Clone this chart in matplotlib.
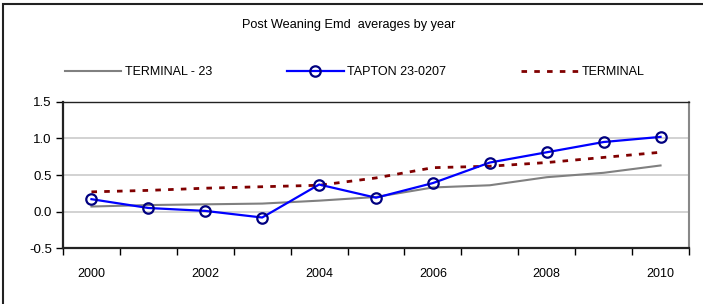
import matplotlib
matplotlib.use("Agg")
import matplotlib.pyplot as plt
from matplotlib.patches import Rectangle

years = [2000, 2001, 2002, 2003, 2004, 2005, 2006, 2007, 2008, 2009, 2010]
terminal_23 = [0.07, 0.09, 0.10, 0.11, 0.15, 0.20, 0.33, 0.36, 0.47, 0.53, 0.63]
tapton = [0.17, 0.05, 0.01, -0.08, 0.37, 0.19, 0.39, 0.67, 0.81, 0.95, 1.02]
terminal = [0.27, 0.29, 0.32, 0.34, 0.36, 0.46, 0.60, 0.62, 0.67, 0.74, 0.81]
yticks = [-0.5, 0.0, 0.5, 1.0, 1.5]

plt.rcParams['font.family'] = ['Liberation Sans', 'DejaVu Sans']

fig = plt.figure(figsize=(7.03, 3.04), dpi=100)
ax = fig.add_axes([63/703, 1-248.3/304, (689-63)/703, (248.3-101.7)/304])

x = list(range(len(years)))
l1, = ax.plot(x, terminal_23, color='#808080', lw=1.5, label='TERMINAL - 23', zorder=3)
l2, = ax.plot(x, tapton, color='#0000FF', lw=1.6, marker='o', markersize=7.5,
              markerfacecolor='none', markeredgecolor='#000080', markeredgewidth=1.6,
              label='TAPTON 23-0207', zorder=5)
l3, = ax.plot(x, terminal, color='#800000', lw=2, linestyle=(0, (2, 2.6)),
              label='TERMINAL', zorder=4)

ax.set_xlim(-0.5, len(years) - 0.5)
ax.set_ylim(-0.5, 1.5)
ax.set_yticks(yticks)
ax.set_yticklabels([f"{v:.1f}" for v in yticks], fontsize=9.5)
ax.set_xticks(x[::2])
ax.set_xticklabels([str(y) for y in years[::2]], fontsize=9)
ax.set_xticks([i - 0.5 for i in range(len(years) + 1)], minor=True)
ax.tick_params(axis='x', which='major', length=0, pad=14)
ax.tick_params(axis='x', which='minor', length=5, width=1, direction='out')
ax.tick_params(axis='y', length=5, width=1, direction='out', pad=3)
ax.grid(axis='y', color='#cfcfcf', lw=1.3)
ax.set_axisbelow(True)
for s in ['left', 'bottom']:
    ax.spines[s].set_linewidth(1.6)
    ax.spines[s].set_color('#222222')
ax.spines['top'].set_linewidth(1)
ax.spines['top'].set_color('#222222')
ax.spines['right'].set_linewidth(1.5)
ax.spines['right'].set_color('#888888')

fig.text(349/703, 1-25/304, 'Post Weaning Emd  averages by year', ha='center', va='center',
         fontsize=9.2)

fig.legend(handles=[l1, l2, l3], loc='center left', bbox_to_anchor=(65/703, 1-72/304),
           ncol=3, frameon=False, fontsize=9, handlelength=4.5, handletextpad=0.3,
           columnspacing=6.0, borderpad=0, borderaxespad=0)

fig.add_artist(Rectangle((3/703, -0.2), 1.2, 1.2 - 4/304, transform=fig.transFigure,
                         fill=False, edgecolor='#222222', lw=1.5))

fig.savefig('out.png', dpi=100)
